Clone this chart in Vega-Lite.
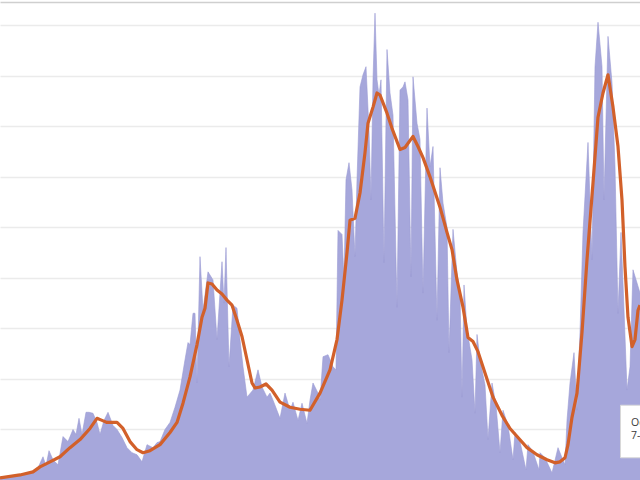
{
  "$schema": "https://vega.github.io/schema/vega-lite/v6.json",
  "width": 640,
  "height": 480,
  "autosize": {"type": "none"},
  "padding": 0,
  "background": "white",
  "config": {"view": {"stroke": null}},
  "datasets": {
    "daily": [
      {"t":0,"v":2},{"t":10,"v":3},{"t":20,"v":4},{"t":30,"v":7},{"t":38,"v":12},{"t":43,"v":23},{"t":46,"v":14},{"t":49,"v":29},{"t":53,"v":20},{"t":58,"v":15},
      {"t":63,"v":43},{"t":68,"v":38},{"t":73,"v":50},{"t":76,"v":45},{"t":79,"v":61},{"t":82,"v":45},{"t":86,"v":67},{"t":89,"v":67},{"t":93,"v":66},{"t":97,"v":57},
      {"t":100,"v":45},{"t":104,"v":59},{"t":108,"v":67},{"t":113,"v":54},{"t":117,"v":50},{"t":122,"v":42},{"t":127,"v":32},{"t":132,"v":27},{"t":137,"v":25},{"t":142,"v":18},
      {"t":147,"v":35},{"t":153,"v":32},{"t":157,"v":37},{"t":160,"v":38},{"t":165,"v":50},{"t":170,"v":57},{"t":175,"v":72},{"t":180,"v":89},{"t":185,"v":119},{"t":188,"v":136},
      {"t":190,"v":134},{"t":193,"v":165},{"t":195,"v":165},{"t":197,"v":96},{"t":200,"v":221},{"t":203,"v":168},{"t":208,"v":206},{"t":213,"v":198},{"t":217,"v":139},{"t":222,"v":216},
      {"t":224,"v":175},{"t":226,"v":230},{"t":229,"v":112},{"t":233,"v":173},{"t":237,"v":170},{"t":240,"v":139},{"t":243,"v":112},{"t":247,"v":82},{"t":253,"v":89},{"t":258,"v":109},
      {"t":262,"v":92},{"t":267,"v":82},{"t":270,"v":86},{"t":273,"v":79},{"t":280,"v":61},{"t":285,"v":86},{"t":290,"v":69},{"t":293,"v":77},{"t":298,"v":59},{"t":302,"v":76},
      {"t":307,"v":56},{"t":310,"v":79},{"t":313,"v":96},{"t":318,"v":86},{"t":320,"v":79},{"t":323,"v":122},{"t":328,"v":124},{"t":333,"v":112},{"t":336,"v":109},{"t":338,"v":247},
      {"t":342,"v":243},{"t":344,"v":198},{"t":346,"v":297},{"t":349,"v":314},{"t":352,"v":287},{"t":355,"v":221},{"t":357,"v":297},{"t":360,"v":389},{"t":363,"v":401},{"t":366,"v":409},
      {"t":369,"v":346},{"t":371,"v":277},{"t":373,"v":396},{"t":375,"v":462},{"t":377,"v":396},{"t":379,"v":381},{"t":381,"v":396},{"t":384,"v":215},{"t":387,"v":426},{"t":390,"v":383},
      {"t":393,"v":361},{"t":397,"v":171},{"t":400,"v":386},{"t":403,"v":389},{"t":405,"v":394},{"t":408,"v":376},{"t":411,"v":201},{"t":413,"v":399},{"t":417,"v":353},{"t":420,"v":337},
      {"t":423,"v":185},{"t":427,"v":368},{"t":430,"v":310},{"t":433,"v":330},{"t":437,"v":158},{"t":440,"v":309},{"t":443,"v":274},{"t":447,"v":250},{"t":449,"v":126},{"t":453,"v":248},
      {"t":457,"v":205},{"t":460,"v":185},{"t":462,"v":82},{"t":464,"v":193},{"t":467,"v":149},{"t":472,"v":119},{"t":475,"v":66},{"t":477,"v":144},{"t":480,"v":119},{"t":485,"v":94},
      {"t":488,"v":40},{"t":492,"v":96},{"t":496,"v":74},{"t":500,"v":27},{"t":503,"v":69},{"t":508,"v":54},{"t":513,"v":20},{"t":515,"v":47},{"t":520,"v":38},{"t":526,"v":10},
      {"t":528,"v":35},{"t":533,"v":28},{"t":539,"v":10},{"t":540,"v":27},{"t":545,"v":22},{"t":552,"v":7},{"t":558,"v":32},{"t":562,"v":22},{"t":565,"v":15},{"t":567,"v":59},
      {"t":570,"v":96},{"t":574,"v":126},{"t":577,"v":69},{"t":580,"v":146},{"t":583,"v":245},{"t":588,"v":334},{"t":592,"v":218},{"t":595,"v":409},{"t":598,"v":453},{"t":602,"v":409},
      {"t":604,"v":277},{"t":608,"v":439},{"t":612,"v":393},{"t":615,"v":310},{"t":618,"v":165},{"t":621,"v":245},{"t":623,"v":195},{"t":627,"v":89},{"t":630,"v":112},{"t":633,"v":208},
      {"t":637,"v":195},{"t":640,"v":185}
    ],
    "avg": [
      {"t":0,"v":2},{"t":20,"v":5},{"t":33,"v":8},{"t":40,"v":13},{"t":50,"v":18},{"t":60,"v":23},{"t":70,"v":32},{"t":80,"v":40},{"t":90,"v":51},{"t":97,"v":61},
      {"t":102,"v":59},{"t":107,"v":57},{"t":117,"v":57},{"t":123,"v":51},{"t":130,"v":38},{"t":137,"v":30},{"t":143,"v":27},{"t":150,"v":29},{"t":160,"v":35},{"t":170,"v":47},
      {"t":177,"v":57},{"t":183,"v":76},{"t":190,"v":102},{"t":197,"v":134},{"t":202,"v":161},{"t":205,"v":170},{"t":208,"v":195},{"t":212,"v":194},{"t":217,"v":188},{"t":222,"v":184},
      {"t":227,"v":178},{"t":232,"v":173},{"t":237,"v":158},{"t":242,"v":142},{"t":247,"v":119},{"t":252,"v":96},{"t":255,"v":91},{"t":260,"v":92},{"t":266,"v":95},{"t":272,"v":89},
      {"t":280,"v":77},{"t":290,"v":72},{"t":300,"v":70},{"t":310,"v":69},{"t":320,"v":86},{"t":330,"v":109},{"t":337,"v":139},{"t":342,"v":178},{"t":347,"v":225},{"t":350,"v":257},
      {"t":355,"v":259},{"t":360,"v":284},{"t":365,"v":324},{"t":368,"v":353},{"t":373,"v":369},{"t":377,"v":383},{"t":380,"v":381},{"t":387,"v":363},{"t":392,"v":348},{"t":400,"v":327},
      {"t":405,"v":329},{"t":413,"v":340},{"t":418,"v":330},{"t":423,"v":319},{"t":430,"v":300},{"t":435,"v":285},{"t":440,"v":270},{"t":447,"v":245},{"t":452,"v":228},{"t":457,"v":198},
      {"t":463,"v":171},{"t":468,"v":141},{"t":473,"v":137},{"t":478,"v":127},{"t":485,"v":106},{"t":493,"v":82},{"t":502,"v":64},{"t":510,"v":51},{"t":518,"v":42},{"t":527,"v":32},
      {"t":537,"v":25},{"t":547,"v":20},{"t":555,"v":17},{"t":560,"v":18},{"t":565,"v":22},{"t":568,"v":35},{"t":572,"v":62},{"t":577,"v":86},{"t":582,"v":146},{"t":587,"v":218},
      {"t":593,"v":294},{"t":598,"v":359},{"t":603,"v":383},{"t":608,"v":401},{"t":613,"v":369},{"t":618,"v":330},{"t":622,"v":277},{"t":625,"v":211},{"t":628,"v":161},{"t":632,"v":132},
      {"t":635,"v":139},{"t":638,"v":168},{"t":640,"v":173}
    ]
  },
  "layer": [
    {
      "data": {"name": "daily"},
      "mark": {"type": "area", "color": "#a6a7db", "opacity": 1, "fillOpacity": 1, "line": {"color": "#9a9bd4", "strokeWidth": 0.6}},
      "encoding": {
        "x": {"field": "t", "type": "quantitative", "scale": {"domain": [0, 640], "nice": false, "zero": false}, "axis": null},
        "y": {
          "field": "v", "type": "quantitative",
          "scale": {"domain": [0, 475], "nice": false},
          "axis": {
            "values": [50, 100, 150, 200, 250, 300, 350, 400, 450, 473.5],
            "grid": true,
            "gridColor": {"condition": {"test": "datum.value > 470", "value": "#cfcfcf"}, "value": "#ebebeb"},
            "gridWidth": 1.5,
            "domain": false, "ticks": false, "labels": false, "title": null
          }
        }
      }
    },
    {
      "data": {"name": "avg"},
      "mark": {"type": "line", "color": "#d2602a", "strokeWidth": 3.2, "strokeJoin": "round"},
      "encoding": {
        "x": {"field": "t", "type": "quantitative"},
        "y": {"field": "v", "type": "quantitative"}
      }
    },
    {
      "data": {"values": [{}]},
      "mark": {"type": "rect", "fill": "white", "stroke": "#d8d8d8", "strokeWidth": 1},
      "encoding": {
        "x": {"datum": 620.5, "type": "quantitative"},
        "x2": {"datum": 660},
        "y": {"datum": 74, "type": "quantitative"},
        "y2": {"datum": 22}
      }
    },
    {
      "data": {"values": [{}]},
      "mark": {"type": "text", "align": "left", "baseline": "middle", "fontSize": 10.5, "font": "Open Sans", "color": "#3a3a3a"},
      "encoding": {
        "x": {"datum": 631, "type": "quantitative"},
        "y": {"datum": 56.5, "type": "quantitative"},
        "text": {"value": "Oct 2"}
      }
    },
    {
      "data": {"values": [{}]},
      "mark": {"type": "text", "align": "left", "baseline": "middle", "fontSize": 10.5, "font": "Open Sans", "color": "#3a3a3a"},
      "encoding": {
        "x": {"datum": 631, "type": "quantitative"},
        "y": {"datum": 43.5, "type": "quantitative"},
        "text": {"value": "7-day avg"}
      }
    }
  ]
}
